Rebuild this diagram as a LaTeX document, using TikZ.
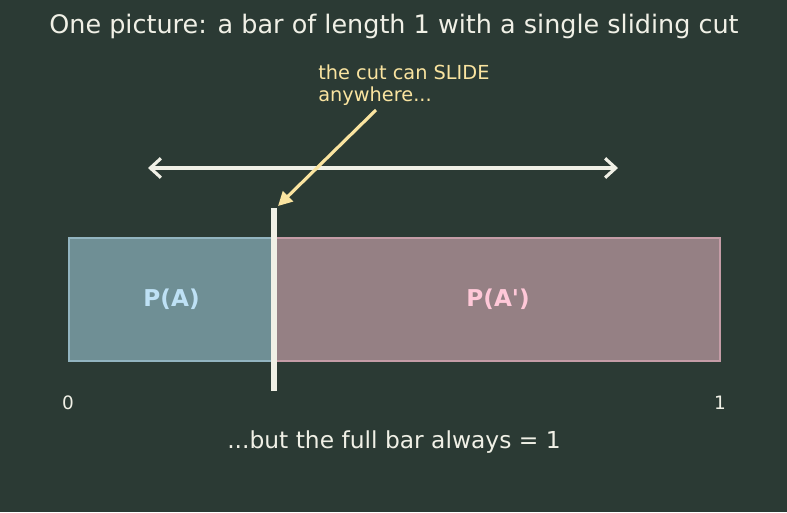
\documentclass[tikz,border=0pt]{standalone}
\usepackage{fontspec}
\setmainfont{DejaVu Sans}
\newfontfamily\plainfont{DejaVu Sans}
\usetikzlibrary{arrows.meta}
\definecolor{bgcol}{RGB}{43,58,52}
\definecolor{chalk}{RGB}{240,240,230}
\definecolor{notecol}{RGB}{250,228,160}
\definecolor{afill}{RGB}{111,143,149}
\definecolor{aline}{RGB}{146,180,192}
\definecolor{atext}{RGB}{190,225,245}
\definecolor{bfill}{RGB}{149,128,132}
\definecolor{bline}{RGB}{196,156,166}
\definecolor{btext}{RGB}{255,200,216}
\tikzset{
  part/.style = {draw, line width=1.2pt, inner sep=0pt, anchor=north west},
  tick/.style = {text=chalk, font=\fontsize{10.5}{12}\selectfont},
}
\begin{document}
\begin{tikzpicture}[x=0.02cm, y=-0.02cm]
\fill[bgcol] (0,0) rectangle (787,512);
\useasboundingbox (0,0) rectangle (787,512);
\node[text=chalk, font=\fontsize{14.5}{17}\selectfont] (title) at (394,26) {One picture: a bar of length 1 with a single sliding cut};
% the two pieces of the bar
\node[part, fill=afill, draw=aline, minimum width=205*0.02cm, minimum height=123*0.02cm] (partA) at (68,237) {};
\node[part, fill=bfill, draw=bline, minimum width=444*0.02cm, minimum height=123*0.02cm] (partB) at (275,237) {};
\node[text=atext, font=\fontsize{13.2}{15}\selectfont\bfseries] (labA) at (partA.center) {P(A)};
\node[text=btext, font=\plainfont\fontsize{13.2}{15}\selectfont\bfseries] (labB) at (partB.center) {P(A')};
% the cut
\coordinate (cuttop) at (274,208);
\coordinate (cutbot) at (274,391);
\draw[chalk, line width=3pt] (cuttop) -- (cutbot);
% sliding range
\coordinate (slideL) at (148,168);
\coordinate (slideR) at (618,168);
\draw[chalk, line width=1.8pt, {Straight Barb[length=6pt,width=11pt]}-{Straight Barb[length=6pt,width=11pt]}] (slideL) -- (slideR);
% note
\node[text=notecol, font=\fontsize{11}{13}\selectfont, align=left, anchor=north west, inner sep=0pt] (note) at (318,64) {the cut can SLIDE\\anywhere...};
\coordinate (tail) at (376,110);
\coordinate (tip) at (278,206);
\draw[notecol, line width=1.8pt, -{Triangle[length=8pt,width=8pt]}] (tail) -- (tip);
% ends of the bar
\node[tick] (zero) at (68,403) {0};
\node[tick] (one) at (720,403) {1};
\node[text=chalk, font=\fontsize{13.3}{15}\selectfont] (total) at (394,442) {...but the full bar always = 1};
\end{tikzpicture}
\end{document}
